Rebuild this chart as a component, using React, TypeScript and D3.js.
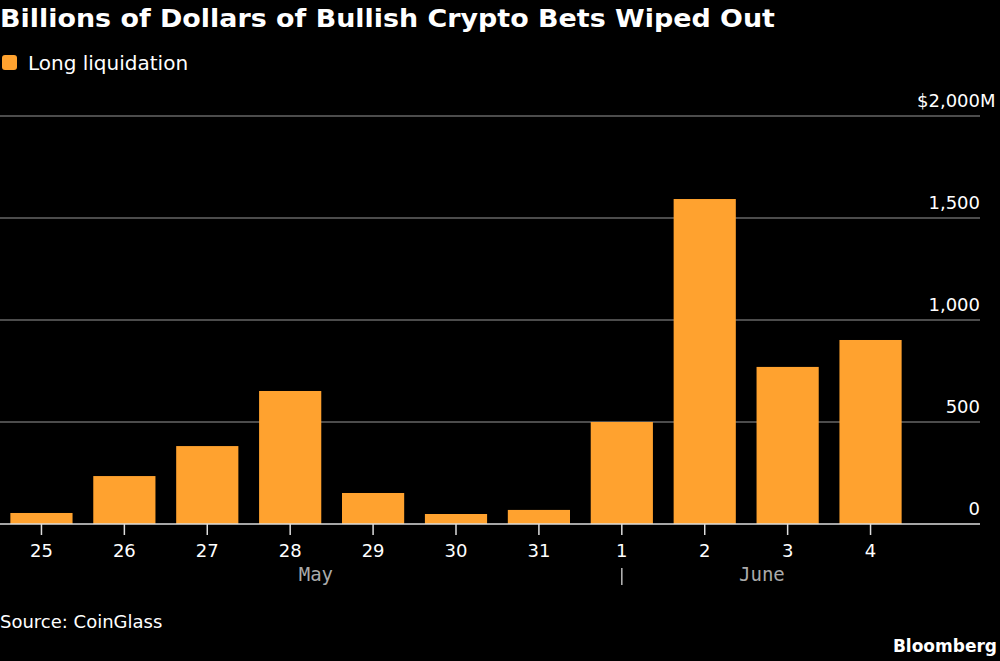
import {useEffect, useRef} from "react";
import * as d3 from 'd3'

const days = ['25', '26', '27', '28', '29', '30', '31', '1', '2', '3', '4']
const longLiquidation = [54, 235, 382, 652, 152, 49, 69, 500, 1593, 770, 902]
const yTicks = [0, 500, 1000, 1500, 2000]
// month labels sit a little to the right of the given day
const months = [{label: 'May', at: '28', offset: 0.31}, {label: 'June', at: '2', offset: 0.69}]

const W = 1000, H = 661
const ORANGE = '#ffa22f'

export default function App(){
    const ref = useRef<SVGSVGElement>(null)

    useEffect(()=>{
        document.body.style.margin = '0'
        document.body.style.background = '#000'
        const svg = d3.select(ref.current)
        svg.selectAll('*').remove()

        const x = d3.scaleBand().domain(days).range([0, 912]).paddingInner(0.25).paddingOuter(0.125)
        const y = d3.scaleLinear().domain([0, 2000]).range([524, 116])

        // title + legend
        svg.append('text').attr('x', 0).attr('y', 27)
            .attr('font-family', 'DejaVu Sans').attr('font-weight', 700).attr('font-size', 25)
            .attr('textLength', 775).attr('lengthAdjust', 'spacingAndGlyphs')
            .attr('fill', '#fff').text('Billions of Dollars of Bullish Crypto Bets Wiped Out')
        svg.append('rect').attr('x', 2).attr('y', 55).attr('width', 15).attr('height', 15)
            .attr('rx', 3).attr('fill', ORANGE)
        svg.append('text').attr('x', 28).attr('y', 70)
            .attr('font-family', 'DejaVu Sans').attr('font-size', 20)
            .attr('fill', '#fff').text('Long liquidation')

        // grid
        const grid = svg.append('g')
        grid.selectAll('line').data(yTicks.filter(d=>d>0)).enter().append('line')
            .attr('x1', 0).attr('x2', 980)
            .attr('y1', d=>y(d)).attr('y2', d=>y(d))
            .attr('stroke', '#666').attr('stroke-width', 1.5)
        grid.selectAll('text').data(yTicks).enter().append('text')
            .attr('x', 980).attr('y', d=>y(d) - 9)
            .attr('text-anchor', 'end')
            .attr('font-family', 'DejaVu Sans').attr('font-size', 18).attr('fill', '#fff')
            .text(d=> d === 2000 ? '$2,000' : d3.format(',')(d))
        svg.append('text').attr('x', 980).attr('y', y(2000) - 9)
            .attr('font-family', 'DejaVu Sans').attr('font-size', 18).attr('fill', '#fff').text('M')

        // bars
        svg.append('g').selectAll('rect').data(longLiquidation).enter().append('rect')
            .attr('x', (d, i)=>x(days[i])!)
            .attr('width', x.bandwidth())
            .attr('y', d=>y(d))
            .attr('height', d=>y(0) - y(d))
            .attr('fill', ORANGE)

        // x axis
        svg.append('line').attr('x1', 0).attr('x2', 980).attr('y1', y(0)).attr('y2', y(0))
            .attr('stroke', '#ddd').attr('stroke-width', 1.5)
        const ax = svg.append('g')
        days.forEach(d=>{
            const cx = x(d)! + x.bandwidth()/2
            ax.append('line').attr('x1', cx).attr('x2', cx).attr('y1', y(0)).attr('y2', y(0) + 11)
                .attr('stroke', '#ddd').attr('stroke-width', 1.5)
            ax.append('text').attr('x', cx).attr('y', 557).attr('text-anchor', 'middle')
                .attr('font-family', 'DejaVu Sans').attr('font-size', 18).attr('fill', '#fff').text(d)
        })
        months.forEach(m=>{
            const cx = x(m.at)! + x.bandwidth()/2 + x.step()*m.offset
            ax.append('text').attr('x', cx).attr('y', 581).attr('text-anchor', 'middle')
                .attr('font-family', 'DejaVu Sans Mono').attr('font-size', 19).attr('fill', '#aaa').text(m.label)
        })
        const sep = x('1')! + x.bandwidth()/2
        ax.append('line').attr('x1', sep).attr('x2', sep).attr('y1', 568).attr('y2', 585)
            .attr('stroke', '#bbb').attr('stroke-width', 1.5)

        // footer
        svg.append('text').attr('x', 0).attr('y', 628)
            .attr('font-family', 'DejaVu Sans').attr('font-size', 18).attr('fill', '#fff').text('Source: CoinGlass')
        svg.append('text').attr('x', 997).attr('y', 652).attr('text-anchor', 'end')
            .attr('font-family', 'DejaVu Sans').attr('font-weight', 700).attr('font-size', 17)
            .attr('fill', '#fff').text('Bloomberg')
    }, [])

    return <svg ref={ref} width={W} height={H} style={{display: 'block', background: '#000'}}/>
}
